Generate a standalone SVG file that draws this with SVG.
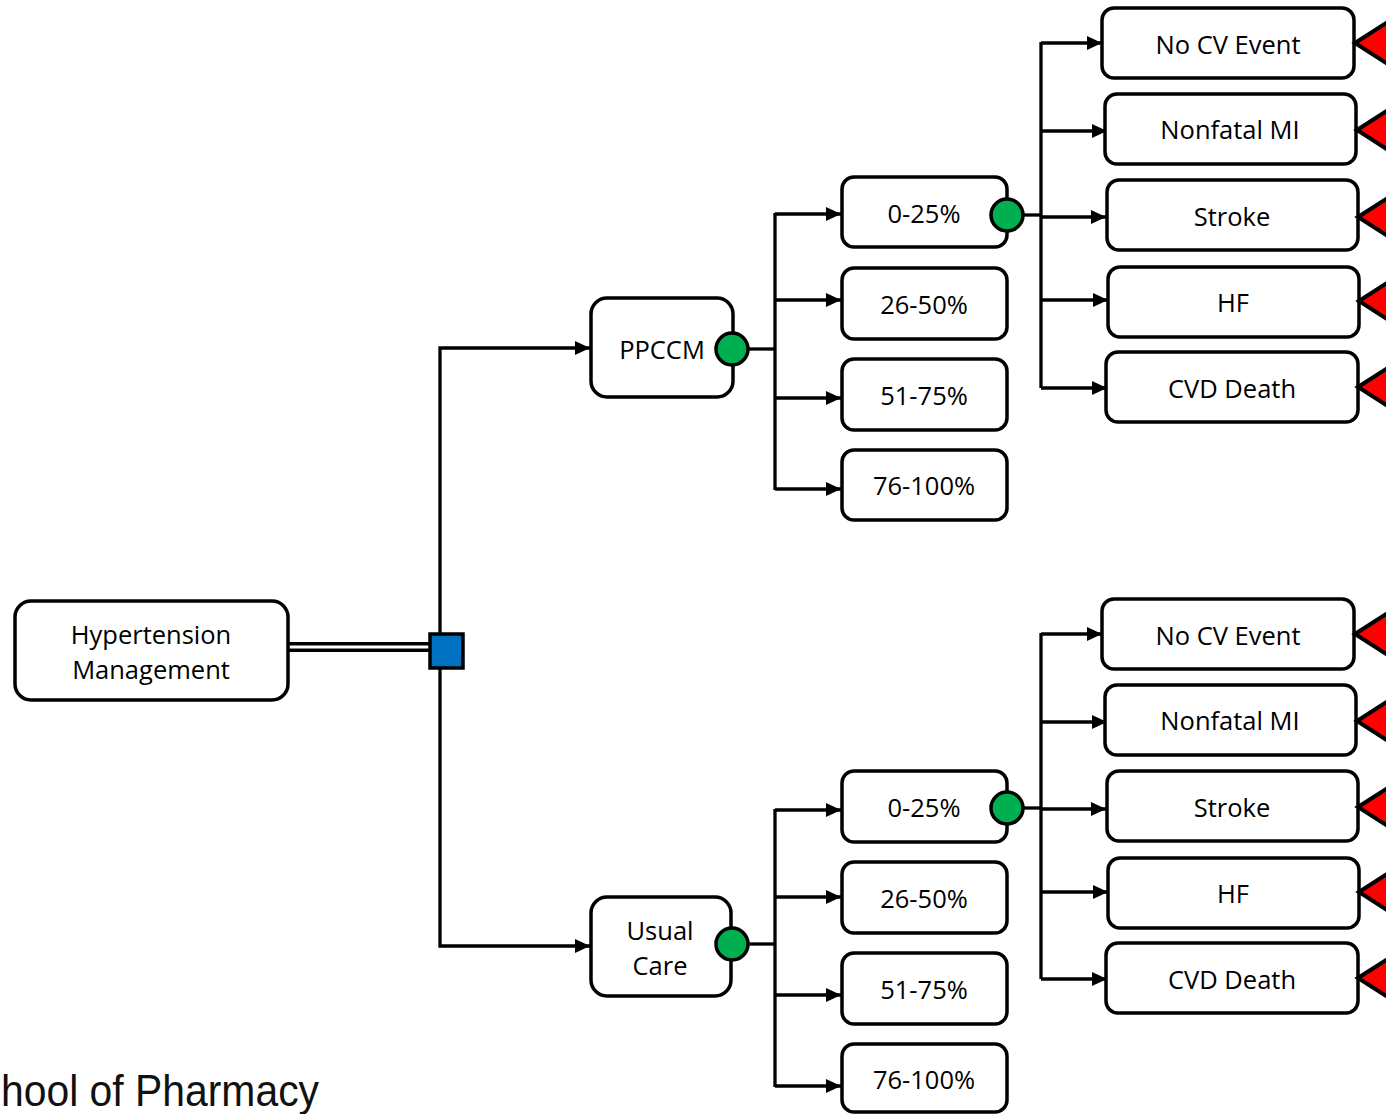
<svg xmlns="http://www.w3.org/2000/svg" width="1386" height="1114" viewBox="0 0 1386 1114">
  <defs>
    <marker id="arrow" markerUnits="userSpaceOnUse" markerWidth="15" markerHeight="14" refX="15" refY="7" orient="auto">
      <path d="M0,0 L15,7 L0,14 z" fill="#000"/>
    </marker>
    <style>
      .box { fill: #fff; stroke: #000; stroke-width: 3.5; }
      .lbl { font-family: "Open Sans", "Noto Sans", sans-serif; font-size: 25.5px; fill: #000; text-anchor: middle; dominant-baseline: central; }
      .chance { fill: #00B050; stroke: #000; stroke-width: 3.5; }
      .term { fill: #FF0000; stroke: #000; stroke-width: 4; stroke-linejoin: miter; }
      .wire { fill: none; stroke: #000; stroke-width: 3.3; }
      .arr { fill: none; stroke: #000; stroke-width: 3.3; marker-end: url(#arrow); }
    </style>
  </defs>
  <rect width="1386" height="1114" fill="#fff"/>

  <!-- connectors -->
  <g id="connectors">
    <!-- double line from root to decision -->
    <line x1="288" y1="647" x2="432" y2="647" stroke="#000" stroke-width="10"/>
    <line x1="288" y1="647" x2="432" y2="647" stroke="#fff" stroke-width="3"/>
    <!-- decision branches -->
    <path class="arr" d="M440,634 V348 H590"/>
    <path class="arr" d="M440,668 V946 H590"/>
    <!-- PPCCM chance branches -->
    <path class="wire" d="M749,349 H775"/>
    <path class="wire" d="M775,213 V490"/>
    <path class="arr" d="M775,214 H841"/>
    <path class="arr" d="M775,300 H841"/>
    <path class="arr" d="M775,398 H841"/>
    <path class="arr" d="M775,489 H841"/>
    <!-- Usual Care chance branches -->
    <path class="wire" d="M748,944 H775"/>
    <path class="wire" d="M775,809 V1087"/>
    <path class="arr" d="M775,810 H841"/>
    <path class="arr" d="M775,897 H841"/>
    <path class="arr" d="M775,995 H841"/>
    <path class="arr" d="M775,1086 H841"/>
    <!-- upper outcome fan -->
    <path class="wire" d="M1023,215 H1041"/>
    <path class="wire" d="M1041,42 V388"/>
    <path class="arr" d="M1041,43 H1102"/>
    <path class="arr" d="M1041,131 H1107"/>
    <path class="arr" d="M1041,217 H1106"/>
    <path class="arr" d="M1041,300 H1108"/>
    <path class="arr" d="M1041,388 H1107"/>
    <!-- lower outcome fan -->
    <path class="wire" d="M1023,808 H1041"/>
    <path class="wire" d="M1041,633 V979"/>
    <path class="arr" d="M1041,634 H1102"/>
    <path class="arr" d="M1041,722 H1107"/>
    <path class="arr" d="M1041,809 H1106"/>
    <path class="arr" d="M1041,892 H1108"/>
    <path class="arr" d="M1041,979 H1107"/>
  </g>

  <!-- root -->
  <g id="root">
    <rect class="box" x="15" y="601" width="273" height="99" rx="16"/>
    <text class="lbl" x="151" y="634">Hypertension</text>
    <text class="lbl" x="151" y="669">Management</text>
  </g>

  <!-- decision node -->
  <g id="decision">
    <rect x="430" y="634" width="33" height="34" fill="#0070C0" stroke="#000" stroke-width="3.5"/>
  </g>

  <!-- strategies -->
  <g id="ppccm">
    <rect class="box" x="591" y="298" width="142" height="99" rx="16"/>
    <text class="lbl" x="662" y="349">PPCCM</text>
    <circle class="chance" cx="732" cy="349" r="16"/>
  </g>
  <g id="usual-care">
    <rect class="box" x="591" y="897" width="140" height="99" rx="16"/>
    <text class="lbl" x="660" y="930">Usual</text>
    <text class="lbl" x="660" y="965">Care</text>
    <circle class="chance" cx="732" cy="944" r="16"/>
  </g>

  <!-- adherence bands, PPCCM -->
  <g id="p-0-25">
    <rect class="box" x="842" y="177" width="165" height="70" rx="12"/>
    <text class="lbl" x="924" y="213">0-25%</text>
    <circle class="chance" cx="1007" cy="215" r="16"/>
  </g>
  <g id="p-26-50">
    <rect class="box" x="842" y="268" width="165" height="71" rx="12"/>
    <text class="lbl" x="924" y="304">26-50%</text>
  </g>
  <g id="p-51-75">
    <rect class="box" x="842" y="359" width="165" height="71" rx="12"/>
    <text class="lbl" x="924" y="395">51-75%</text>
  </g>
  <g id="p-76-100">
    <rect class="box" x="842" y="450" width="165" height="70" rx="12"/>
    <text class="lbl" x="924" y="485">76-100%</text>
  </g>

  <!-- adherence bands, Usual Care -->
  <g id="u-0-25">
    <rect class="box" x="842" y="771" width="165" height="71" rx="12"/>
    <text class="lbl" x="924" y="807">0-25%</text>
    <circle class="chance" cx="1007" cy="808" r="16"/>
  </g>
  <g id="u-26-50">
    <rect class="box" x="842" y="862" width="165" height="71" rx="12"/>
    <text class="lbl" x="924" y="898">26-50%</text>
  </g>
  <g id="u-51-75">
    <rect class="box" x="842" y="953" width="165" height="71" rx="12"/>
    <text class="lbl" x="924" y="989">51-75%</text>
  </g>
  <g id="u-76-100">
    <rect class="box" x="842" y="1044" width="165" height="68" rx="12"/>
    <text class="lbl" x="924" y="1079">76-100%</text>
  </g>

  <!-- outcomes, PPCCM -->
  <g id="p-no-cv">
    <rect class="box" x="1102" y="8" width="252" height="70" rx="12"/>
    <text class="lbl" x="1228" y="44">No CV Event</text>
    <polygon class="term" points="1355,43 1408,9 1408,77"/>
  </g>
  <g id="p-mi">
    <rect class="box" x="1105" y="94" width="251" height="70" rx="12"/>
    <text class="lbl" x="1230" y="129">Nonfatal MI</text>
    <polygon class="term" points="1357,130 1410,96 1410,164"/>
  </g>
  <g id="p-stroke">
    <rect class="box" x="1107" y="180" width="251" height="70" rx="12"/>
    <text class="lbl" x="1232" y="216">Stroke</text>
    <polygon class="term" points="1358,217 1411,183 1411,251"/>
  </g>
  <g id="p-hf">
    <rect class="box" x="1108" y="267" width="251" height="70" rx="12"/>
    <text class="lbl" x="1233" y="302">HF</text>
    <polygon class="term" points="1359,301 1412,267 1412,335"/>
  </g>
  <g id="p-cvd">
    <rect class="box" x="1106" y="352" width="252" height="70" rx="12"/>
    <text class="lbl" x="1232" y="388">CVD Death</text>
    <polygon class="term" points="1358,387 1411,353 1411,421"/>
  </g>

  <!-- outcomes, Usual Care -->
  <g id="u-no-cv">
    <rect class="box" x="1102" y="599" width="252" height="70" rx="12"/>
    <text class="lbl" x="1228" y="635">No CV Event</text>
    <polygon class="term" points="1355,634 1408,600 1408,668"/>
  </g>
  <g id="u-mi">
    <rect class="box" x="1105" y="685" width="251" height="70" rx="12"/>
    <text class="lbl" x="1230" y="720">Nonfatal MI</text>
    <polygon class="term" points="1357,721 1410,687 1410,755"/>
  </g>
  <g id="u-stroke">
    <rect class="box" x="1107" y="771" width="251" height="70" rx="12"/>
    <text class="lbl" x="1232" y="807">Stroke</text>
    <polygon class="term" points="1358,807 1411,773 1411,841"/>
  </g>
  <g id="u-hf">
    <rect class="box" x="1108" y="858" width="251" height="70" rx="12"/>
    <text class="lbl" x="1233" y="893">HF</text>
    <polygon class="term" points="1359,892 1412,858 1412,926"/>
  </g>
  <g id="u-cvd">
    <rect class="box" x="1106" y="943" width="252" height="70" rx="12"/>
    <text class="lbl" x="1232" y="979">CVD Death</text>
    <polygon class="term" points="1358,978 1411,944 1411,1012"/>
  </g>

  <!-- footer wordmark -->
  <text x="1" y="1106" font-family="'Liberation Sans', Arial, sans-serif" font-size="44" fill="#111" textLength="318" lengthAdjust="spacingAndGlyphs">hool of Pharmacy</text>
</svg>
